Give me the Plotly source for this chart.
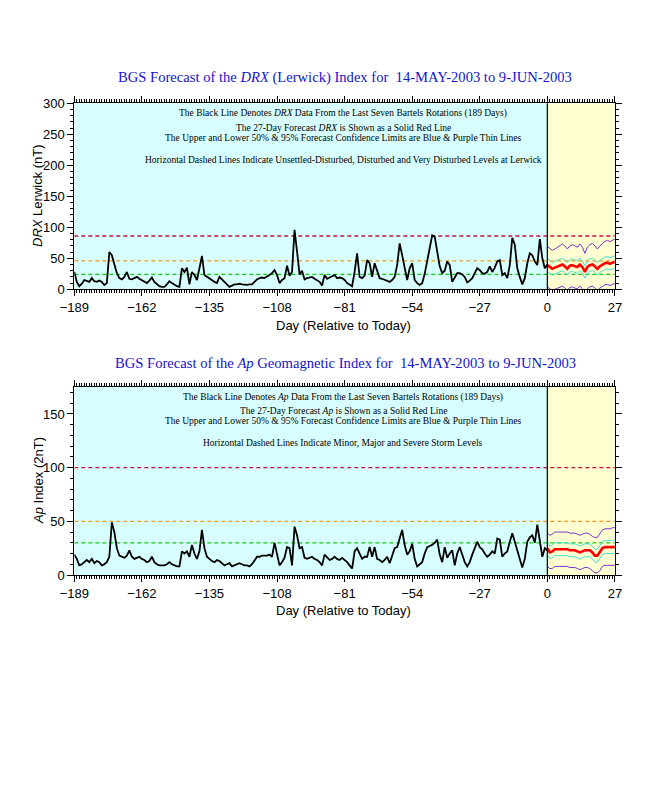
import plotly.graph_objects as go

# ---------------- data ----------------
hist_days = list(range(-189, 1))
fc_days = list(range(0, 28))

drx_hist = [28, 12, 5, 9, 15, 13, 12, 18, 13, 12, 14, 12, 7, 10, 60, 55, 42, 26, 18, 16,
            20, 28, 17, 16, 18, 20, 17, 15, 12, 10, 14, 19, 12, 8, 5, 4, 4, 8, 13, 10,
            7, 5, 4, 34, 28, 35, 8, 28, 23, 15, 34, 54, 23, 20, 18, 14, 12, 10, 20, 16,
            12, 8, 4, 6, 8, 8, 9, 8, 7, 7, 8, 8, 12, 16, 18, 19, 18, 20, 23, 26,
            31, 23, 10, 15, 18, 38, 22, 28, 96, 61, 24, 30, 16, 18, 19, 20, 17, 15, 12, 6,
            23, 17, 19, 20, 23, 18, 19, 18, 15, 10, 8, 5, 28, 58, 20, 18, 22, 47, 42, 20,
            42, 30, 18, 17, 15, 13, 12, 15, 20, 39, 74, 55, 35, 15, 34, 42, 15, 10, 7, 10,
            25, 45, 70, 87, 85, 63, 37, 26, 30, 45, 39, 12, 20, 26, 26, 24, 20, 11, 14, 18,
            26, 34, 31, 26, 25, 28, 37, 28, 35, 45, 47, 23, 26, 18, 39, 83, 72, 34, 20, 8,
            18, 42, 58, 55, 45, 39, 81, 50, 34, 40]

drx_fc = [39, 36, 33, 35, 37, 38, 40, 37, 33, 38, 39, 37, 36, 40, 36, 28, 36, 39, 40, 37,
          33, 37, 40, 42, 43, 41, 43, 44]
drx_up50 = [50, 46, 43, 45, 47, 48, 50, 47, 43, 48, 49, 47, 46, 50, 46, 38, 46, 49, 50, 47,
            43, 47, 50, 52, 53, 51, 53, 54]
drx_lo50 = [28, 26, 23, 25, 27, 28, 30, 27, 23, 28, 29, 27, 26, 30, 26, 18, 26, 29, 30, 27,
            23, 27, 30, 32, 33, 31, 33, 34]
drx_up95 = [69, 66, 63, 65, 68, 70, 73, 70, 65, 70, 72, 70, 68, 73, 68, 58, 68, 72, 74, 70,
            65, 70, 74, 77, 79, 77, 79, 81]
drx_lo95 = [4, 1, -2, 0, 2, 3, 5, 2, -2, 3, 4, 2, 1, 5, 1, -8, 1, 4, 5, 2,
            -2, 2, 5, 7, 8, 6, 8, 9]

ap_hist = [19, 15, 9, 10, 12, 14, 12, 15, 11, 13, 12, 9, 10, 12, 17, 49, 40, 25, 18, 17,
           16, 18, 23, 17, 15, 16, 17, 15, 14, 12, 13, 17, 12, 10, 9, 9, 9, 10, 12, 10,
           9, 8, 8, 22, 20, 22, 17, 28, 20, 15, 22, 42, 25, 17, 15, 13, 12, 14, 13, 11,
           9, 10, 11, 8, 9, 10, 11, 10, 9, 9, 8, 10, 14, 17, 17, 18, 18, 18, 19, 17,
           30, 20, 9, 12, 16, 26, 25, 9, 45, 37, 25, 26, 16, 15, 16, 17, 15, 14, 12, 9,
           19, 16, 14, 15, 17, 15, 14, 16, 14, 12, 9, 6, 22, 25, 20, 15, 17, 17, 26, 17,
           26, 15, 14, 12, 14, 17, 11, 18, 25, 26, 33, 42, 28, 19, 22, 29, 15, 8, 10, 12,
           20, 26, 27, 28, 30, 33, 19, 12, 26, 16, 20, 23, 9, 20, 26, 18, 12, 8, 12, 19,
           26, 31, 26, 24, 20, 17, 19, 22, 20, 34, 33, 17, 20, 22, 31, 39, 31, 22, 15, 7,
           15, 31, 35, 37, 30, 47, 31, 17, 25, 23]

ap_fc = [25, 21, 22, 24, 24, 24, 24, 24, 24, 23, 23, 23, 22, 21, 22, 23, 23, 23, 21, 18,
         18, 21, 25, 26, 26, 26, 26, 26]
ap_up50 = [31, 27, 28, 30, 30, 30, 30, 30, 30, 29, 29, 29, 28, 27, 28, 29, 29, 29, 27, 24,
           24, 27, 31, 32, 32, 32, 32, 33]
ap_lo50 = [19, 15, 16, 18, 18, 18, 18, 18, 18, 17, 17, 17, 16, 15, 16, 17, 17, 17, 15, 12,
           12, 15, 19, 20, 20, 20, 20, 20]
ap_up95 = [39, 37, 38, 40, 40, 40, 40, 40, 40, 39, 39, 39, 38, 37, 38, 39, 39, 38, 36, 35,
           35, 38, 42, 43, 43, 43, 44, 44]
ap_lo95 = [8, 6, 6, 8, 8, 8, 8, 8, 8, 7, 7, 7, 6, 5, 6, 7, 7, 6, 4, 2,
           2, 4, 8, 9, 9, 9, 9, 9]

drx_levels = [86, 46, 24]
ap_levels = [100, 50, 30]
level_colors = ["#c8103c", "#f59a20", "#18c818"]

x_ticks = [-189, -162, -135, -108, -81, -54, -27, 0, 27]

# ---------------- figure ----------------
CYAN = "#d7ffff"
YELLOW = "#ffffd2"
TITLE_BLUE = "#1414cc"
SERIF = "Liberation Serif, Times New Roman, serif"
SANS = "Liberation Sans, Arial, sans-serif"

OFF = 8              # page body margin of the browser
W, H = 650 - OFF, 800 - OFF


def fx(x):
    return (x - OFF) / W


def fy(y):
    return 1 - (y - OFF) / H


fig = go.Figure()

panels = [
    dict(xa="x", ya="y", hist=drx_hist, fc=drx_fc, up50=drx_up50, lo50=drx_lo50,
         up95=drx_up95, lo95=drx_lo95, levels=drx_levels),
    dict(xa="x2", ya="y2", hist=ap_hist, fc=ap_fc, up50=ap_up50, lo50=ap_lo50,
         up95=ap_up95, lo95=ap_lo95, levels=ap_levels),
]

for p in panels:
    xa, ya = p["xa"], p["ya"]
    for key, col, w in [("up95", "#7a30d0", 1), ("lo95", "#7a30d0", 1),
                        ("up50", "#40e0d0", 1), ("lo50", "#40e0d0", 1),
                        ("fc", "#ff0000", 2.6)]:
        fig.add_trace(go.Scatter(x=fc_days, y=p[key], mode="lines", xaxis=xa, yaxis=ya,
                                 line=dict(color=col, width=w), showlegend=False,
                                 hoverinfo="skip"))
    fig.add_trace(go.Scatter(x=hist_days, y=p["hist"], mode="lines", xaxis=xa, yaxis=ya,
                             line=dict(color="black", width=1.8), showlegend=False,
                             hoverinfo="skip"))

shapes = []
for p in panels:
    xa, ya = p["xa"], p["ya"]
    shapes.append(dict(type="rect", xref=xa, yref=ya + " domain", x0=-189, x1=0, y0=0, y1=1,
                       fillcolor=CYAN, line=dict(width=0), layer="below"))
    shapes.append(dict(type="rect", xref=xa, yref=ya + " domain", x0=0, x1=27, y0=0, y1=1,
                       fillcolor=YELLOW, line=dict(width=0), layer="below"))
    for lev, col in zip(p["levels"], level_colors):
        shapes.append(dict(type="line", xref=xa, yref=ya, x0=-189, x1=27, y0=lev, y1=lev,
                           line=dict(color=col, width=1.3, dash="4px,3px"), layer="below"))
    shapes.append(dict(type="line", xref=xa, yref=ya + " domain", x0=0, x1=0, y0=0, y1=1,
                       line=dict(color="black", width=1.2)))
fig.update_layout(shapes=shapes)

xdom = [fx(74.3), fx(614.9)]
axis_common = dict(showline=True, linecolor="black", linewidth=1, mirror="ticks",
                   ticks="outside", tickcolor="black", showgrid=False, zeroline=False,
                   automargin=False,
                   tickfont=dict(family=SANS, size=13, color="black"))

fig.update_layout(
    width=W, height=H, autosize=False,
    margin=dict(l=0, r=0, t=0, b=0, pad=0, autoexpand=False),
    paper_bgcolor="white", plot_bgcolor="white",
    xaxis=dict(domain=xdom, range=[-189, 27], anchor="y", tickvals=x_ticks, ticklen=6,
               minor=dict(dtick=1, tick0=-189, ticklen=3, ticks="outside", tickcolor="black"),
               **axis_common),
    yaxis=dict(domain=[fy(289.3), fy(103.3)], range=[0, 300], anchor="x",
               dtick=50, tick0=0, ticklen=6,
               minor=dict(dtick=10, ticklen=3, ticks="outside", tickcolor="black"),
               **axis_common),
    xaxis2=dict(domain=xdom, range=[-189, 27], anchor="y2", tickvals=x_ticks, ticklen=6,
                minor=dict(dtick=1, tick0=-189, ticklen=3, ticks="outside", tickcolor="black"),
                **axis_common),
    yaxis2=dict(domain=[fy(575), fy(387.1)], range=[0, 175], anchor="x2",
                dtick=50, tick0=0, ticklen=6,
                minor=dict(dtick=10, ticklen=3, ticks="outside", tickcolor="black"),
                **axis_common),
)

ann = []


def add_text(txt, x, y, size, family, color="black", angle=0):
    ann.append(dict(text=txt, x=fx(x), y=fy(y), xref="paper", yref="paper",
                    xanchor="center", yanchor="middle", showarrow=False, textangle=angle,
                    font=dict(family=family, size=size, color=color)))


# titles
add_text("BGS Forecast of the <i>DRX</i> (Lerwick) Index for \u00a014-MAY-2003 to 9-JUN-2003",
         345, 78, 14.6, SERIF, TITLE_BLUE)
add_text("BGS Forecast of the <i>Ap</i> Geomagnetic Index for \u00a014-MAY-2003 to 9-JUN-2003",
         345, 363, 14.6, SERIF, TITLE_BLUE)
# axis titles
for yy in (325, 610):
    add_text("Day (Relative to Today)", 344, yy, 13, SANS)
add_text("<i>DRX</i> Lerwick (nT)", 38, 196, 13, SANS, angle=-90)
add_text("<i>Ap</i> Index (2nT)", 38, 481, 13, SANS, angle=-90)

# explanatory notes
top_notes = [
    ("The Black Line Denotes <i>DRX</i> Data From the Last Seven Bartels Rotations (189 Days)", 113),
    ("The 27-Day Forecast <i>DRX</i> is Shown as a Solid Red Line", 128),
    ("The Upper and Lower 50% &amp; 95% Forecast Confidence Limits are Blue &amp; Purple Thin Lines", 138),
    ("Horizontal Dashed Lines Indicate Unsettled-Disturbed, Disturbed and Very Disturbed Levels at Lerwick", 160),
]
bot_notes = [
    ("The Black Line Denotes <i>Ap</i> Data From the Last Seven Bartels Rotations (189 Days)", 397),
    ("The 27-Day Forecast <i>Ap</i> is Shown as a Solid Red Line", 411),
    ("The Upper and Lower 50% &amp; 95% Forecast Confidence Limits are Blue &amp; Purple Thin Lines", 421),
    ("Horizontal Dashed Lines Indicate Minor, Major and Severe Storm Levels", 443),
]
for txt, yy in top_notes + bot_notes:
    add_text(txt, 343, yy, 9.5, SERIF)

fig.update_layout(annotations=ann)

fig.write_html("out.html")
